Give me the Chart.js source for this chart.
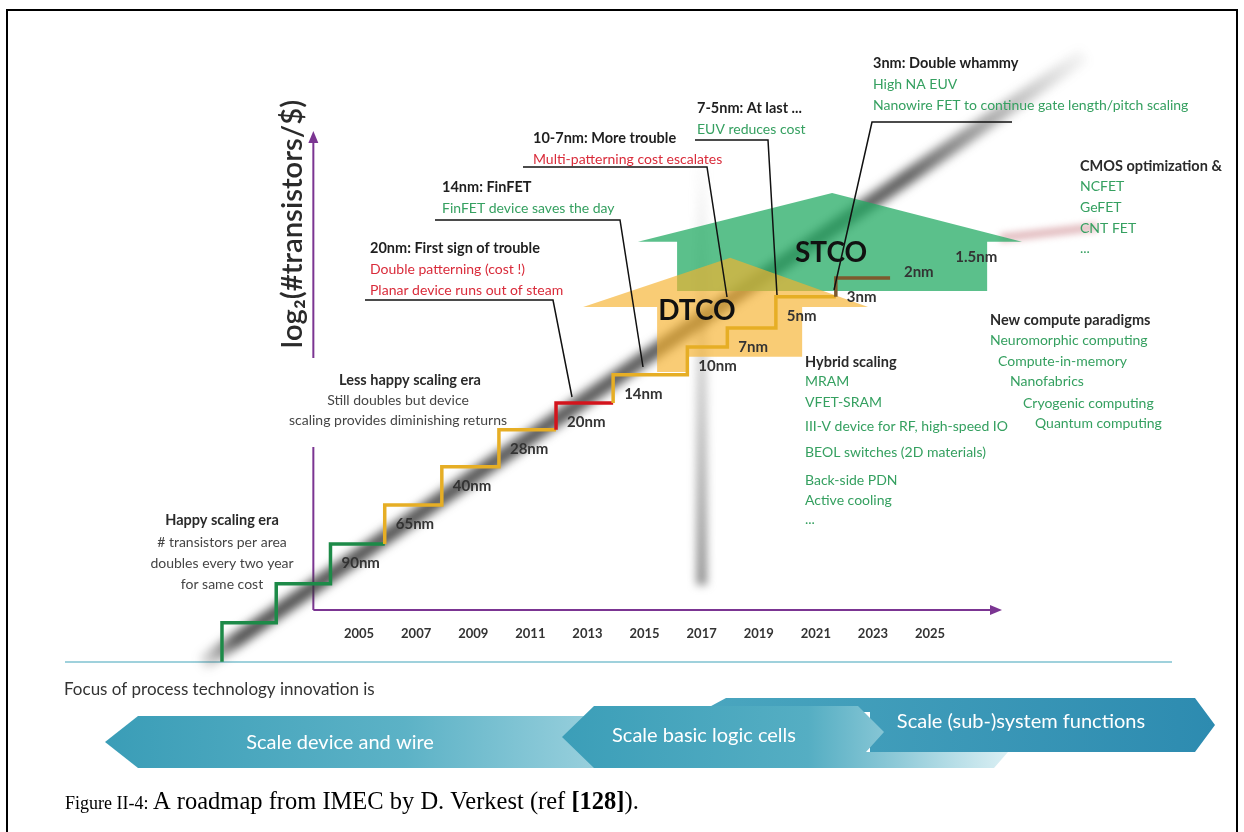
<!DOCTYPE html>
<html>
<head>
<meta charset="utf-8">
<script src="https://cdn.jsdelivr.net/npm/chart.js@4.4.1/dist/chart.umd.min.js"></script>
<style>
  html, body { margin: 0; padding: 0; background: #fff; }
  #wrap { width: 1244px; height: 832px; }
  canvas { display: block; }
</style>
</head>
<body>
<div id="wrap"><canvas id="roadmap" width="1244" height="832"></canvas></div>
<script>
// years on the time axis
const yearTicks = [2005, 2007, 2009, 2011, 2013, 2015, 2017, 2019, 2021, 2023, 2025];
const axisStartYear = 2003.4;   // where the drawn axes cross

// staircase: year where each step ends and its level (log2 #transistors/$)
const stepYears  = [2000.2, 2002.1, 2004.0, 2005.9, 2007.9, 2009.9, 2011.9, 2013.9, 2016.5, 2017.9, 2019.6, 2021.7, 2023.6];
const stepLevels = [-1.33, -0.33, 0.67, 1.69, 2.69, 3.67, 4.62, 5.31, 6.03, 6.74, 7.23, 8.03, 8.51];
// node of step i (from stepYears[i] to stepYears[i+1]) and the era it belongs to
const stepNodes = ['', '', '90nm', '65nm', '40nm', '28nm', '20nm', '14nm', '10nm', '7nm', '5nm', '3nm'];
const stepEra   = ['happy', 'happy', 'happy', 'less', 'less', 'less', 'trouble', 'less', 'less', 'less', 'less', 'stco'];

// later nodes, no step drawn
const futureNodes  = ['2nm', '1.5nm'];
const futureYears  = [2023.7, 2025.5];
const futureLevels = [9.15, 9.54];

// 2x every 2 years trend and the "today" marker
const trendYears  = [1999.5, 2030.4];
const trendLevels = [-1.38, 14.23];
const todayYear   = 2017;
const todayLevels = [0.64, 11.8];

// DTCO / STCO arrows, in (year, level)
const dtcoShape = [[2012.85, 7.77], [2018.0, 9.03], [2022.83, 7.77], [2020.52, 7.77], [2020.52, 6.49],
                   [2016.49, 6.49], [2016.49, 6.10], [2015.44, 6.10], [2015.44, 7.77]];
const stcoShape = [[2014.77, 9.44], [2021.57, 10.69], [2028.22, 9.44], [2027.0, 9.44], [2027.0, 8.18],
                   [2016.14, 8.18], [2016.14, 9.44]];
const cmosBranch = [[2027.45, 9.54], [2030.85, 9.82]];

const eraColor = { happy: '#1d8a48', less: '#e6ae25', trouble: '#d3141c', stco: '#7d5a2e' };
const GREEN = '#35a060', RED = '#d92b3a', HEAD = '#1f1f1f', BODY = '#454545', PURPLE = '#7b3592';
const SANS = 'Lato, "Open Sans", sans-serif';

function txt(ctx, s, x, y, font, color, align) {
  ctx.font = font;
  ctx.fillStyle = color;
  ctx.textAlign = align || 'left';
  ctx.textBaseline = 'middle';
  ctx.fillText(s, x, y);
}

function poly(ctx, pts) {
  ctx.beginPath();
  pts.forEach((p, i) => i ? ctx.lineTo(p[0], p[1]) : ctx.moveTo(p[0], p[1]));
  ctx.closePath();
}

// text blocks with leader lines: [text, style] rows, 21px apart
const callouts = [
  { x: 370, y: 248, rows: [['20nm: First sign of trouble', 'h'], ['Double patterning (cost !)', 'r'], ['Planar device runs out of steam', 'r']],
    leader: [[365, 300], [553, 300], [572, 397]] },
  { x: 442, y: 187, rows: [['14nm: FinFET', 'h'], ['FinFET device saves the day', 'g']],
    leader: [[435, 220], [620, 220], [643, 367]] },
  { x: 533, y: 138, rows: [['10-7nm: More trouble', 'h'], ['Multi-patterning cost escalates', 'r']],
    leader: [[523, 167], [707, 167], [727, 297]] },
  { x: 697, y: 108, rows: [['7-5nm: At last ...', 'h'], ['EUV reduces cost', 'g']],
    leader: [[695, 140], [768, 140], [777, 295]] },
  { x: 873, y: 63, rows: [['3nm: Double whammy', 'h'], ['High NA EUV', 'g'], ['Nanowire FET to continue gate length/pitch scaling', 'g']],
    leader: [[1012, 122], [872, 122], [834, 290]] }
];

const decor = {
  id: 'decor',
  beforeDraw(chart) {
    const ctx = chart.ctx;
    ctx.save();
    ctx.fillStyle = '#fff';
    ctx.fillRect(0, 0, chart.width, chart.height);

    // separator line
    ctx.strokeStyle = '#9fd1dc';
    ctx.lineWidth = 2;
    ctx.beginPath(); ctx.moveTo(65, 662); ctx.lineTo(1172, 662); ctx.stroke();

    txt(ctx, 'Focus of process technology innovation is', 64, 690, '17px ' + SANS, '#333');

    // banner 3
    let g = ctx.createLinearGradient(700, 0, 1215, 0);
    g.addColorStop(0, '#4aa6bf'); g.addColorStop(1, '#2d8bb0');
    ctx.fillStyle = g;
    poly(ctx, [[700, 712], [726, 698], [1195, 698], [1215, 725], [1195, 752], [870, 752], [870, 712]]);
    ctx.fill();
    // banner 1
    g = ctx.createLinearGradient(105, 0, 650, 0);
    g.addColorStop(0, '#3a9db7'); g.addColorStop(0.55, '#5cb2c6'); g.addColorStop(1, '#a9d8e3');
    ctx.fillStyle = g;
    poly(ctx, [[105, 742], [138, 716], [650, 716], [650, 768], [138, 768]]);
    ctx.fill();
    // banner 2
    g = ctx.createLinearGradient(562, 0, 1010, 0);
    g.addColorStop(0, '#3b9eb8'); g.addColorStop(0.55, '#55aec3'); g.addColorStop(0.75, '#8fcad8'); g.addColorStop(1, 'rgba(215,238,243,0.9)');
    ctx.fillStyle = g;
    poly(ctx, [[562, 737], [594, 706], [858, 706], [884, 732], [866, 752], [1008, 752], [994, 768], [594, 768]]);
    ctx.fill();

    txt(ctx, 'Scale device and wire', 340, 743, '20px ' + SANS, '#fff', 'center');
    txt(ctx, 'Scale basic logic cells', 704, 736, '20px ' + SANS, '#fff', 'center');
    txt(ctx, 'Scale (sub-)system functions', 1021, 722, '20px ' + SANS, '#fff', 'center');

    // caption
    let x = 65;
    const base = 809;
    ctx.textBaseline = 'alphabetic';
    ctx.textAlign = 'left';
    ctx.fillStyle = '#000';
    [['Figure II-4: ', '18px "Liberation Serif", serif'],
     ['A roadmap from IMEC by D. Verkest (ref ', '24.5px "Liberation Serif", serif'],
     ['[128]', 'bold 24.5px "Liberation Serif", serif'],
     [').', '24.5px "Liberation Serif", serif']].forEach(([s, f]) => {
      ctx.font = f;
      ctx.fillText(s, x, base);
      x += ctx.measureText(s).width;
    });

    // y axis title, sized to its length on the slide
    ctx.translate(293, 224);
    ctx.rotate(-Math.PI / 2);
    ctx.font = '600 24px ' + SANS;
    const w = ctx.measureText('log₂(#transistors/$)').width;
    txt(ctx, 'log₂(#transistors/$)', 0, 0, '600 ' + (24 * 248 / w).toFixed(1) + 'px ' + SANS, '#2a2a2a', 'center');
    ctx.restore();
  },
  beforeDatasetsDraw(chart) {
    const ctx = chart.ctx, a = chart.chartArea;
    const x0 = chart.scales.x.getPixelForValue(axisStartYear);
    ctx.save();
    ctx.strokeStyle = PURPLE;
    ctx.fillStyle = PURPLE;
    ctx.lineWidth = 2;
    ctx.beginPath();
    ctx.moveTo(x0, a.bottom); ctx.lineTo(x0, 447);
    ctx.moveTo(x0, 358); ctx.lineTo(x0, a.top + 8);
    ctx.moveTo(x0, a.bottom); ctx.lineTo(a.right - 8, a.bottom);
    ctx.stroke();
    poly(ctx, [[x0, a.top - 2], [x0 - 5, a.top + 10], [x0 + 5, a.top + 10]]); ctx.fill();
    poly(ctx, [[a.right + 2, a.bottom], [a.right - 10, a.bottom - 5], [a.right - 10, a.bottom + 5]]); ctx.fill();
    ctx.restore();
  },
  beforeDatasetDraw(chart, args) {
    const ctx = chart.ctx;
    if (args.index === 1 || args.index === 2) {
      ctx.save();
      ctx.filter = args.index === 1 ? 'blur(5px)' : 'blur(4px)';
      return;
    }
    // process arrows sit under the staircase
    const X = v => chart.scales.x.getPixelForValue(v);
    const Y = v => chart.scales.y.getPixelForValue(v);
    ctx.save();
    // faint branch toward CMOS options
    ctx.filter = 'blur(3px)';
    ctx.strokeStyle = 'rgba(205,140,145,0.55)';
    ctx.lineWidth = 9;
    ctx.beginPath();
    ctx.moveTo(X(cmosBranch[0][0]), Y(cmosBranch[0][1]));
    ctx.lineTo(X(cmosBranch[1][0]), Y(cmosBranch[1][1]));
    ctx.stroke();
    ctx.filter = 'none';
    ctx.fillStyle = 'rgba(34,170,98,0.74)';
    poly(ctx, stcoShape.map(p => [X(p[0]), Y(p[1])])); ctx.fill();
    ctx.fillStyle = 'rgba(246,178,45,0.66)';
    poly(ctx, dtcoShape.map(p => [X(p[0]), Y(p[1])])); ctx.fill();
    ctx.restore();
  },
  afterDatasetDraw(chart, args) {
    if (args.index === 1 || args.index === 2) chart.ctx.restore();
  },
  afterDraw(chart) {
    const ctx = chart.ctx;
    const X = v => chart.scales.x.getPixelForValue(v);
    const Y = v => chart.scales.y.getPixelForValue(v);
    ctx.save();

    // node labels under each step
    const nodeFont = 'bold 15px ' + SANS;
    stepNodes.forEach((n, i) => {
      if (n) txt(ctx, n, X(stepYears[i]) + 11, Y(stepLevels[i + 1]) + 19, nodeFont, '#333');
    });
    futureNodes.forEach((n, i) => txt(ctx, n, X(futureYears[i]) + 11, Y(futureLevels[i]) + 19, nodeFont, '#333'));

    txt(ctx, 'DTCO', 697, 311, 'bold 28px ' + SANS, '#111', 'center');
    txt(ctx, 'STCO', 831, 253, 'bold 28px ' + SANS, '#111', 'center');

    // callouts
    ctx.strokeStyle = '#111';
    ctx.lineWidth = 1.5;
    callouts.forEach(c => {
      ctx.beginPath();
      c.leader.forEach((p, i) => i ? ctx.lineTo(p[0], p[1]) : ctx.moveTo(p[0], p[1]));
      ctx.stroke();
      c.rows.forEach(([s, k], j) => {
        const font = (k === 'h' ? 'bold 14.5px ' : '14px ') + SANS;
        txt(ctx, s, c.x, c.y + j * 21, font, k === 'h' ? HEAD : (k === 'r' ? RED : GREEN));
      });
    });

    // era descriptions
    txt(ctx, 'Happy scaling era', 222, 520, 'bold 14.5px ' + SANS, '#2a2a2a', 'center');
    ['# transistors per area', 'doubles every two year', 'for same cost'].forEach((s, j) =>
      txt(ctx, s, 222, 542 + j * 21, '14px ' + SANS, BODY, 'center'));
    txt(ctx, 'Less happy scaling era', 410, 380, 'bold 14.5px ' + SANS, '#2a2a2a', 'center');
    ['Still doubles but device', 'scaling provides diminishing returns'].forEach((s, j) =>
      txt(ctx, s, 398, 400 + j * 20, '14px ' + SANS, BODY, 'center'));

    // hybrid scaling list
    txt(ctx, 'Hybrid scaling', 805, 362, 'bold 14.5px ' + SANS, '#2a2a2a');
    [['MRAM', 381], ['VFET-SRAM', 402], ['III-V device for RF, high-speed IO', 426], ['BEOL switches (2D materials)', 452],
     ['Back-side PDN', 480], ['Active cooling', 500], ['...', 519]].forEach(([s, y]) =>
      txt(ctx, s, 805, y, '14px ' + SANS, GREEN));

    // new compute paradigms
    txt(ctx, 'New compute paradigms', 990, 320, 'bold 14.5px ' + SANS, '#2a2a2a');
    [['Neuromorphic computing', 990, 340], ['Compute-in-memory', 998, 361], ['Nanofabrics', 1010, 381],
     ['Cryogenic computing', 1023, 403], ['Quantum computing', 1035, 423]].forEach(([s, x, y]) =>
      txt(ctx, s, x, y, '14px ' + SANS, GREEN));

    // CMOS options, cut by the frame
    ctx.save();
    ctx.beginPath(); ctx.rect(0, 0, 1236, 832); ctx.clip();
    txt(ctx, 'CMOS optimization &', 1080, 166, 'bold 14.5px ' + SANS, '#2a2a2a');
    [['NCFET', 186], ['GeFET', 207], ['CNT FET', 228], ['...', 248]].forEach(([s, y]) =>
      txt(ctx, s, 1080, y, '14px ' + SANS, GREEN));
    ctx.restore();

    // frame
    ctx.strokeStyle = '#000';
    ctx.lineWidth = 2;
    ctx.strokeRect(7, 10, 1230, 840);
    ctx.restore();
  }
};

new Chart(document.getElementById('roadmap'), {
  type: 'line',
  data: {
    datasets: [
      {
        label: 'node steps',
        data: stepYears.map((x, i) => ({ x, y: stepLevels[i] })),
        stepped: 'after',
        borderWidth: 3.5,
        borderColor: eraColor.happy,
        borderJoinStyle: 'miter',
        pointRadius: 0,
        clip: false,
        segment: { borderColor: c => eraColor[stepEra[c.p0DataIndex]] }
      },
      {
        label: 'trend',
        data: trendYears.map((x, i) => ({ x, y: trendLevels[i] })),
        borderWidth: 15,
        pointRadius: 0,
        clip: false,
        borderColor: c => {
          const ch = c.chart;
          if (!ch.chartArea) return 'rgba(60,60,60,0.8)';
          const sx = ch.scales.x, sy = ch.scales.y;
          const gr = ch.ctx.createLinearGradient(sx.getPixelForValue(trendYears[0]), sy.getPixelForValue(trendLevels[0]),
            sx.getPixelForValue(trendYears[1]), sy.getPixelForValue(trendLevels[1]));
          gr.addColorStop(0, 'rgba(55,55,55,0.1)');
          gr.addColorStop(0.04, 'rgba(55,55,55,0.85)');
          gr.addColorStop(0.8, 'rgba(60,60,60,0.8)');
          gr.addColorStop(1, 'rgba(80,80,80,0.05)');
          return gr;
        }
      },
      {
        label: 'today',
        data: todayLevels.map(y => ({ x: todayYear, y })),
        borderWidth: 11,
        pointRadius: 0,
        clip: false,
        borderColor: c => {
          const ch = c.chart;
          if (!ch.chartArea) return 'rgba(120,120,120,0.6)';
          const sy = ch.scales.y;
          const gr = ch.ctx.createLinearGradient(0, sy.getPixelForValue(todayLevels[1]), 0, sy.getPixelForValue(todayLevels[0]));
          gr.addColorStop(0, 'rgba(150,150,150,0)');
          gr.addColorStop(0.5, 'rgba(130,130,130,0.35)');
          gr.addColorStop(1, 'rgba(110,110,110,0.75)');
          return gr;
        }
      }
    ]
  },
  options: {
    responsive: false,
    devicePixelRatio: 1,
    animation: false,
    events: [],
    layout: { padding: { left: 200, right: 244, top: 133, bottom: 182 } },
    plugins: { legend: { display: false }, tooltip: { enabled: false } },
    scales: {
      x: {
        type: 'linear',
        min: 1999.43,
        max: 2027.45,
        grid: { display: false, drawTicks: false },
        border: { display: false },
        afterBuildTicks: s => { s.ticks = yearTicks.map(v => ({ value: v })); },
        afterFit: s => { s.height = 40; },
        ticks: {
          autoSkip: false,
          maxRotation: 0,
          padding: 16,
          color: '#333',
          font: { family: 'Lato', weight: 'bold', size: 13 },
          callback: v => String(v)
        }
      },
      y: { type: 'linear', min: 0, max: 12.23, display: false }
    }
  },
  plugins: [decor]
});
</script>
</body>
</html>
